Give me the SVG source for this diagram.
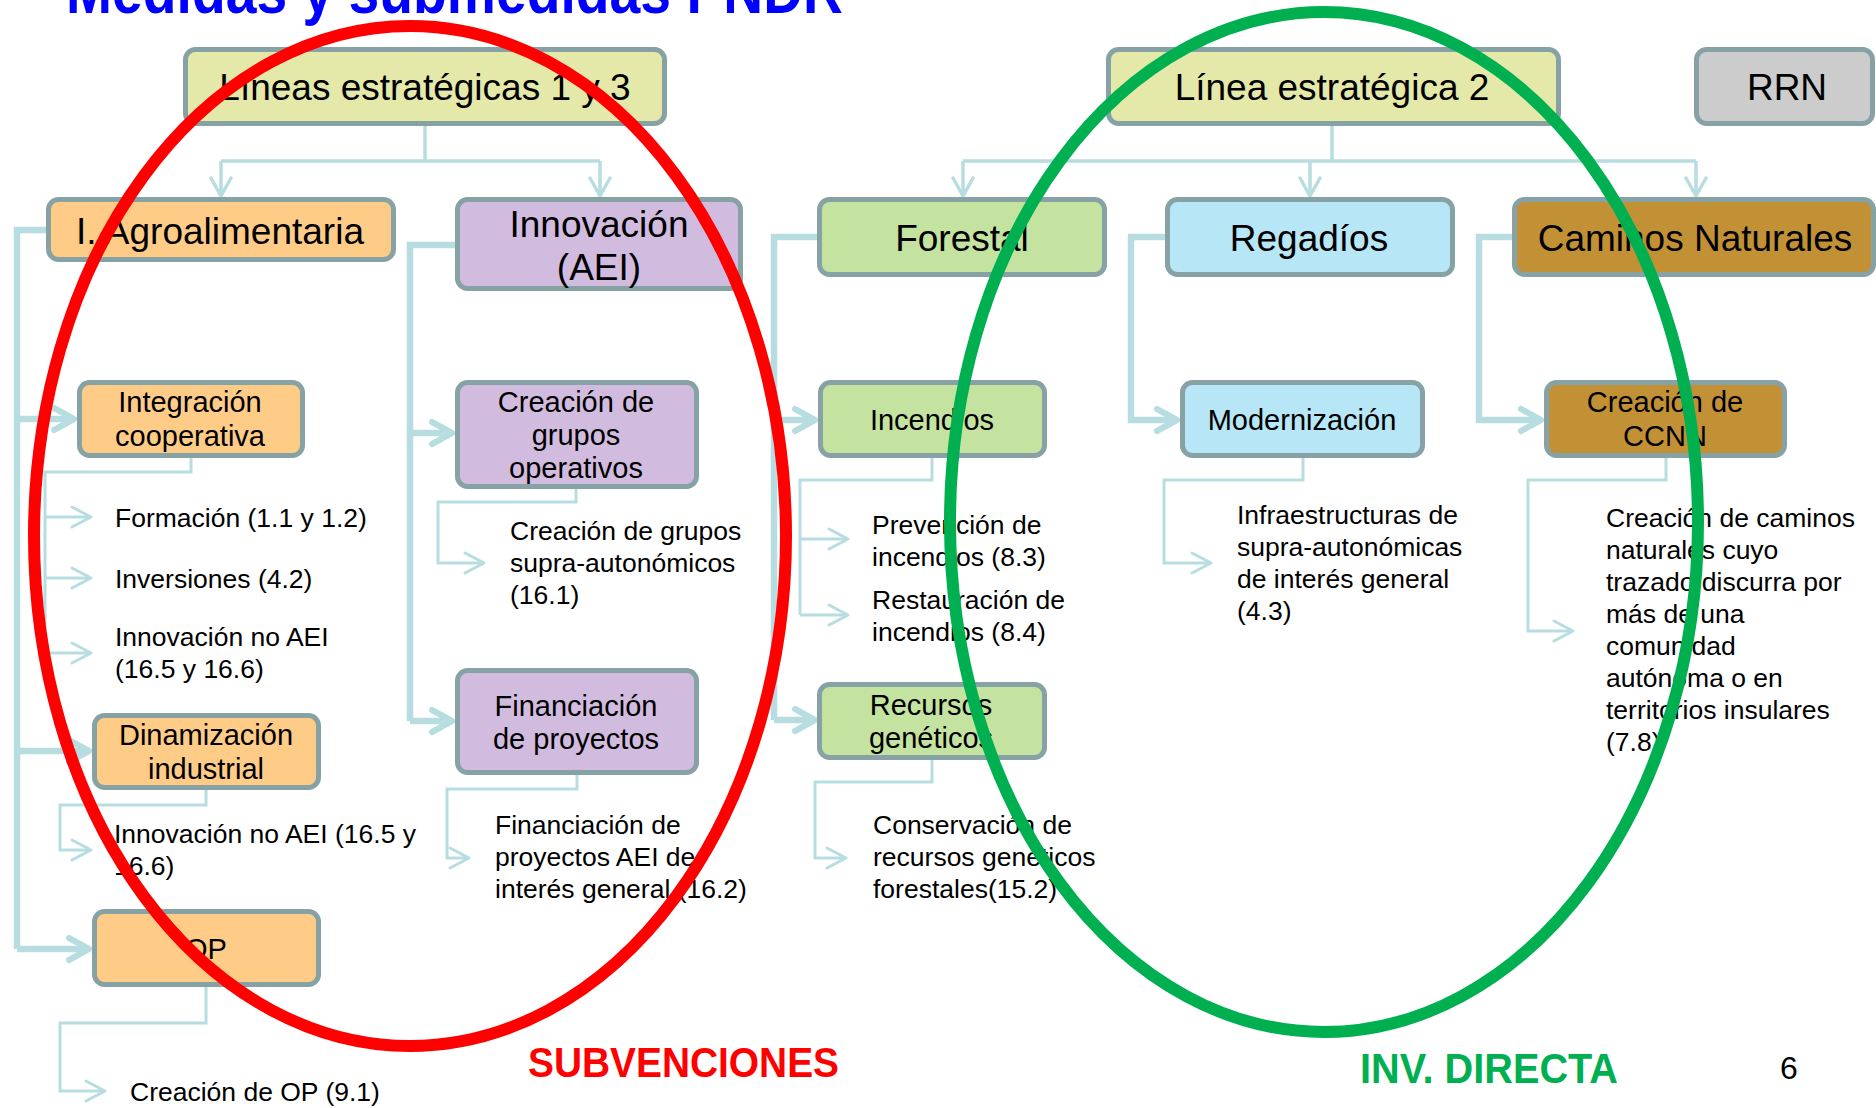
<svg xmlns="http://www.w3.org/2000/svg" width="1876" height="1108" viewBox="0 0 1876 1108">
<style>
text{font-family:"Liberation Sans",Arial,sans-serif;fill:#000}
.box{stroke:#87A2A4;stroke-width:5}
.yg{fill:#E4E8A9}.gr{fill:#CCCCCC}.or{fill:#FFCC88}.lv{fill:#D1BCDF}.lg{fill:#C5E3A0}.lb{fill:#B7E6F7}.br{fill:#C39135}
.t37{font-size:37px;text-anchor:middle}
.t29{font-size:29px;text-anchor:middle}
.t26{font-size:26.5px}
.c1{fill:none;stroke:#B7DDE1;stroke-width:3.5}
.c2{fill:none;stroke:#B7DDE1;stroke-width:6.5}
.c3{fill:none;stroke:#B7DDE1;stroke-width:3}
.ca1{fill:none;stroke:#B7DDE1;stroke-width:3.5;marker-end:url(#m1)}
.ca2{fill:none;stroke:#B7DDE1;stroke-width:6.5;marker-end:url(#m2)}
.ca3{fill:none;stroke:#B7DDE1;stroke-width:3;marker-end:url(#m3)}
</style>
<defs>
<marker id="m1" markerUnits="userSpaceOnUse" markerWidth="30" markerHeight="30" refX="0" refY="0" orient="auto" overflow="visible"><path d="M-18,-10 L0,0 L-18,10" fill="none" stroke="#B7DDE1" stroke-width="3.5" stroke-linejoin="round" stroke-linecap="round"/></marker>
<marker id="m2" markerUnits="userSpaceOnUse" markerWidth="30" markerHeight="30" refX="0" refY="0" orient="auto" overflow="visible"><path d="M-20,-11 L0,0 L-20,11" fill="none" stroke="#B7DDE1" stroke-width="6" stroke-linejoin="round" stroke-linecap="round"/></marker>
<marker id="m3" markerUnits="userSpaceOnUse" markerWidth="30" markerHeight="30" refX="0" refY="0" orient="auto" overflow="visible"><path d="M-19,-10 L0,0 L-19,10" fill="none" stroke="#B7DDE1" stroke-width="3" stroke-linejoin="round" stroke-linecap="round"/></marker>
</defs>

<text x="66" y="13" font-size="64" font-weight="bold" style="fill:#0000FF" textLength="777" lengthAdjust="spacingAndGlyphs">Medidas y submedidas PNDR</text>

<g id="connectors">
<path class="c1" d="M425,126 V161 M221,161 H600"/>
<path class="ca1" d="M221,161 V196"/>
<path class="ca1" d="M600,161 V196"/>
<path class="c1" d="M1332,126 V161 M963,161 H1696"/>
<path class="ca1" d="M963,161 V196"/>
<path class="ca1" d="M1310,161 V196"/>
<path class="ca1" d="M1696,161 V196"/>

<path class="c2" d="M46,230 H17 V949"/>
<path class="ca2" d="M17,419 H74"/>
<path class="ca2" d="M17,751 H89"/>
<path class="ca2" d="M17,949 H89"/>

<path class="c2" d="M455,245 H410 V721"/>
<path class="ca2" d="M410,433 H452"/>
<path class="ca2" d="M410,721 H452"/>

<path class="c2" d="M817,237 H774 V720"/>
<path class="ca2" d="M774,420 H815"/>
<path class="ca2" d="M774,720 H815"/>

<path class="ca2" d="M1165,237 H1131 V420 H1177"/>
<path class="ca2" d="M1512,237 H1479 V420 H1541"/>

<path class="c3" d="M191,458 V472 H45 V653"/>
<path class="ca3" d="M45,517 H91"/>
<path class="ca3" d="M45,578 H91"/>
<path class="ca3" d="M45,653 H91"/>
<path class="ca3" d="M576,489 V502 H438 V563 H484"/>
<path class="ca3" d="M206,790 V805 H60 V850 H91"/>
<path class="ca3" d="M206,987 V1023 H60 V1091 H105"/>
<path class="ca3" d="M577,775 V789 H447 V858 H469"/>
<path class="c3" d="M932,458 V480 H800 V615"/>
<path class="ca3" d="M800,539 H848"/>
<path class="ca3" d="M800,615 H848"/>
<path class="ca3" d="M932,760 V782 H815 V858 H846"/>
<path class="ca3" d="M1303,458 V480 H1164 V563 H1211"/>
<path class="ca3" d="M1666,458 V480 H1528 V631 H1573"/>
</g>

<g id="n-lineas13"><rect class="box yg" x="185.5" y="49.5" width="479" height="74" rx="10"/><text class="t37" x="425" y="100">Líneas estratégicas 1 y 3</text></g>
<g id="n-linea2"><rect class="box yg" x="1108.5" y="49.5" width="450" height="74" rx="10"/><text class="t37" x="1332" y="100">Línea estratégica 2</text></g>
<g id="n-rrn"><rect class="box gr" x="1696.5" y="49.5" width="176" height="74" rx="10"/><text class="t37" x="1787" y="100">RRN</text></g>

<g id="n-agro"><rect class="box or" x="48.5" y="199.5" width="345" height="60" rx="10"/><text class="t37" x="220" y="244">I. Agroalimentaria</text></g>
<g id="n-innov"><rect class="box lv" x="457.5" y="199.5" width="283" height="89" rx="10"/><text class="t37" x="599" y="237">Innovación</text><text class="t37" x="599" y="280">(AEI)</text></g>
<g id="n-forestal"><rect class="box lg" x="819.5" y="199.5" width="285" height="75" rx="10"/><text class="t37" x="962" y="251">Forestal</text></g>
<g id="n-regadios"><rect class="box lb" x="1167.5" y="199.5" width="285" height="75" rx="10"/><text class="t37" x="1309" y="251">Regadíos</text></g>
<g id="n-caminos"><rect class="box br" x="1514.5" y="199.5" width="359" height="75" rx="10"/><text class="t37" x="1695" y="251">Caminos Naturales</text></g>

<g id="n-integracion"><rect class="box or" x="79.5" y="382.5" width="223" height="73" rx="10"/><text class="t29" x="190" y="412">Integración</text><text class="t29" x="190" y="446">cooperativa</text></g>
<g id="n-grupos"><rect class="box lv" x="457.5" y="382.5" width="239" height="104" rx="10"/><text class="t29" x="576" y="412">Creación de</text><text class="t29" x="576" y="445">grupos</text><text class="t29" x="576" y="478">operativos</text></g>
<g id="n-incendios"><rect class="box lg" x="820.5" y="382.5" width="224" height="73" rx="10"/><text class="t29" x="932" y="430">Incendios</text></g>
<g id="n-modernizacion"><rect class="box lb" x="1182.5" y="382.5" width="240" height="73" rx="10"/><text class="t29" x="1302" y="430">Modernización</text></g>
<g id="n-ccnn"><rect class="box br" x="1546.5" y="382.5" width="238" height="73" rx="10"/><text class="t29" x="1665" y="412">Creación de</text><text class="t29" x="1665" y="446">CCNN</text></g>
<g id="n-financiacion"><rect class="box lv" x="457.5" y="670.5" width="239" height="102" rx="10"/><text class="t29" x="576" y="716">Financiación</text><text class="t29" x="576" y="749">de proyectos</text></g>
<g id="n-recursos"><rect class="box lg" x="819.5" y="684.5" width="225" height="73" rx="10"/><text class="t29" x="931" y="715">Recursos</text><text class="t29" x="931" y="748">genéticos</text></g>
<g id="n-dinamizacion"><rect class="box or" x="94.5" y="715.5" width="224" height="72" rx="10"/><text class="t29" x="206" y="745">Dinamización</text><text class="t29" x="206" y="779">industrial</text></g>
<g id="n-op"><rect class="box or" x="94.5" y="911.5" width="224" height="73" rx="10"/><text class="t29" x="206" y="959">OP</text></g>

<g id="leaves">
<text class="t26" x="115" y="527">Formación (1.1 y 1.2)</text>
<text class="t26" x="115" y="588">Inversiones (4.2)</text>
<text class="t26" x="115" y="646">Innovación no AEI</text>
<text class="t26" x="115" y="678">(16.5 y 16.6)</text>
<text class="t26" x="510" y="540">Creación de grupos</text>
<text class="t26" x="510" y="572">supra-autonómicos</text>
<text class="t26" x="510" y="604">(16.1)</text>
<text class="t26" x="114" y="843">Innovación no AEI (16.5 y</text>
<text class="t26" x="114" y="875">16.6)</text>
<text class="t26" x="130" y="1101">Creación de OP (9.1)</text>
<text class="t26" x="495" y="834">Financiación de</text>
<text class="t26" x="495" y="866">proyectos AEI de</text>
<text class="t26" x="495" y="898">interés general (16.2)</text>
<text class="t26" x="872" y="534">Prevención de</text>
<text class="t26" x="872" y="566">incendios (8.3)</text>
<text class="t26" x="872" y="609">Restauración de</text>
<text class="t26" x="872" y="641">incendios (8.4)</text>
<text class="t26" x="873" y="834">Conservación de</text>
<text class="t26" x="873" y="866">recursos genéticos</text>
<text class="t26" x="873" y="898">forestales(15.2)</text>
<text class="t26" x="1237" y="524">Infraestructuras de</text>
<text class="t26" x="1237" y="556">supra-autonómicas</text>
<text class="t26" x="1237" y="588">de interés general</text>
<text class="t26" x="1237" y="620">(4.3)</text>
<text class="t26" x="1606" y="527">Creación de caminos</text>
<text class="t26" x="1606" y="559">naturales cuyo</text>
<text class="t26" x="1606" y="591">trazado discurra por</text>
<text class="t26" x="1606" y="623">más de una</text>
<text class="t26" x="1606" y="655">comunidad</text>
<text class="t26" x="1606" y="687">autónoma o en</text>
<text class="t26" x="1606" y="719">territorios insulares</text>
<text class="t26" x="1606" y="751">(7.8)</text>
</g>

<ellipse cx="410" cy="536" rx="376" ry="510" fill="none" stroke="#FF0000" stroke-width="12"/>
<ellipse cx="1324" cy="522" rx="374" ry="510" fill="none" stroke="#00B050" stroke-width="12"/>

<text x="528" y="1077" font-size="43" font-weight="bold" style="fill:#FF0000" textLength="311" lengthAdjust="spacingAndGlyphs">SUBVENCIONES</text>
<text x="1360" y="1083" font-size="43" font-weight="bold" style="fill:#00B050" textLength="258" lengthAdjust="spacingAndGlyphs">INV. DIRECTA</text>
<text x="1780" y="1079" font-size="32">6</text>
</svg>
